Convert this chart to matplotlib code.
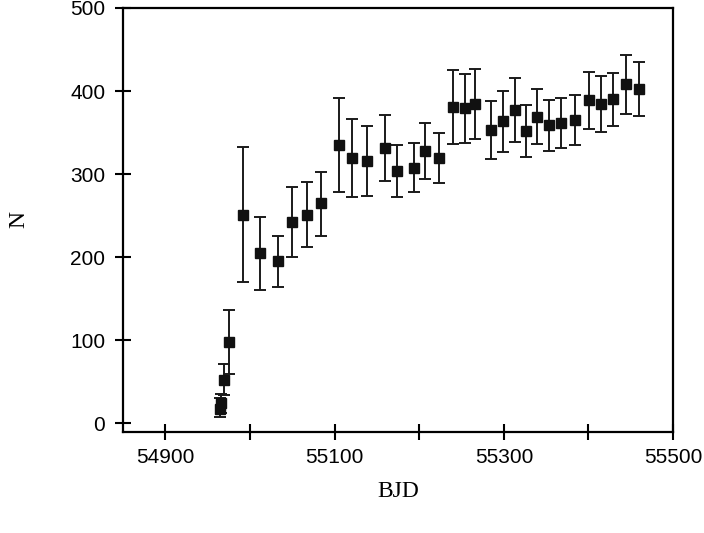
import numpy as np
import matplotlib
matplotlib.use("Agg")
import matplotlib.pyplot as plt

# BJD of each bin and the estimated N with lower / upper error bars
bjd = [54965, 54966, 54969, 54975, 54992, 55012, 55033, 55049, 55067, 55084,
       55105, 55120, 55138, 55160, 55174, 55194, 55207, 55223, 55240, 55254,
       55266, 55285, 55299, 55313, 55326, 55339, 55353, 55368, 55384, 55401,
       55415, 55429, 55444, 55460]
n_val = [17, 24, 52, 98, 251, 205, 195, 242, 251, 265,
         335, 320, 316, 332, 304, 308, 328, 319, 381, 380,
         385, 353, 364, 377, 352, 369, 359, 361, 365, 389,
         385, 390, 408, 403]
n_top = [30, 35, 71, 136, 333, 248, 226, 285, 291, 303,
         392, 366, 358, 371, 335, 338, 362, 350, 425, 421,
         426, 388, 400, 416, 383, 402, 389, 392, 395, 423,
         418, 422, 443, 435]
n_bot = [8, 12, 34, 59, 170, 161, 164, 200, 212, 226,
         278, 273, 274, 292, 273, 278, 294, 289, 336, 338,
         342, 318, 327, 339, 321, 336, 328, 332, 335, 354,
         351, 358, 373, 370]

x_major = [54900, 55100, 55300, 55500]
x_minor = [55000, 55200, 55400]
y_ticks = [0, 100, 200, 300, 400, 500]

bjd = np.array(bjd)
n_val = np.array(n_val)
err = [n_val - np.array(n_bot), np.array(n_top) - n_val]

fig = plt.figure(figsize=(7.04, 5.33), dpi=100)
ax = fig.add_axes([0.175, 0.19, 0.781, 0.795])

ax.errorbar(bjd, n_val, yerr=err, fmt="s", color="#111111", ecolor="#1a1a1a",
            markersize=6.5, elinewidth=1.4, capsize=4, capthick=1.4)

ax.set_xlim(54850, 55500)
ax.set_ylim(-10, 500)
ax.set_xticks(x_major)
ax.set_xticks(x_minor, minor=True)
ax.set_yticks(y_ticks)
ax.tick_params(which="both", direction="inout", length=12, width=1.5,
               labelsize=15, pad=6)
ax.tick_params(axis="y", pad=7)
for lab in ax.get_xticklabels() + ax.get_yticklabels():
    lab.set_family("Liberation Sans")
for s in ax.spines.values():
    s.set_linewidth(1.6)

ax.set_xlabel("BJD", family="Liberation Serif", fontsize=17, labelpad=10)
ax.set_ylabel("N", family="Liberation Serif", fontsize=17, labelpad=29)

fig.savefig("out.png", dpi=100)
